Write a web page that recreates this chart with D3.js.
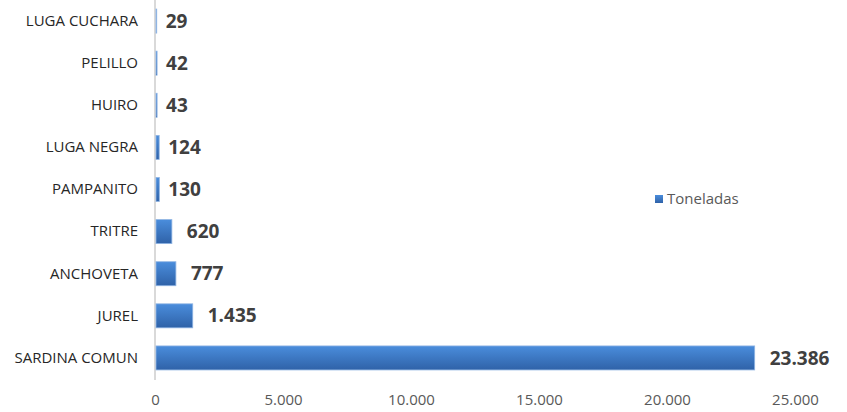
<!DOCTYPE html>
<html lang="es">
  <head>
    <meta charset="UTF-8" />
    <title>Toneladas por especie</title>
    <script src="https://d3js.org/d3.v7.min.js"></script>
    <style>
      body { margin: 0; background: #fff; }
      .chart text { font-family: "Open Sans", "Noto Sans", sans-serif; }
    </style>
  </head>
  <body>
    <div class="chart"></div>
  </body>

  <script>
    var especies = ["LUGA CUCHARA", "PELILLO", "HUIRO", "LUGA NEGRA", "PAMPANITO",
      "TRITRE", "ANCHOVETA", "JUREL", "SARDINA COMUN"];
    var toneladas = [29, 42, 43, 124, 130, 620, 777, 1435, 23386];
    var xTicks = [0, 5000, 10000, 15000, 20000, 25000];
    var serie = "Toneladas";

    var W = 847, H = 412;
    var margin = { top: 0, right: 52, bottom: 33, left: 155 };
    var width = W - margin.left - margin.right;
    var height = H - margin.top - margin.bottom;

    var fmt = function (v) {
      return d3.format(",")(v).replace(/,/g, ".");
    };

    var svgRoot = d3.select(".chart").append("svg")
      .attr("width", W).attr("height", H);

    var grad = svgRoot.append("defs").append("linearGradient")
      .attr("id", "barGrad").attr("x1", 0).attr("y1", 0).attr("x2", 0).attr("y2", 1);
    grad.append("stop").attr("offset", "0%").attr("stop-color", "#4a8ddc");
    grad.append("stop").attr("offset", "100%").attr("stop-color", "#2f62a8");

    var svg = svgRoot.append("g")
      .attr("transform", "translate(" + margin.left + "," + margin.top + ")");

    var x = d3.scaleLinear().domain([0, 25000]).range([0, width]);
    var y = d3.scaleBand().domain(especies).range([0, height]).paddingInner(0.43).paddingOuter(0.215);

    // eje x (solo etiquetas)
    var xAxis = d3.axisBottom(x).tickValues(xTicks).tickFormat(fmt).tickSize(0).tickPadding(15);
    var gx = svg.append("g").attr("transform", "translate(0," + height + ")").call(xAxis);
    gx.select(".domain").remove();
    gx.selectAll("text").attr("fill", "#595959").style("font-size", "15px");

    // eje y
    var yAxis = d3.axisLeft(y).tickSize(0).tickPadding(17);
    var gy = svg.append("g").call(yAxis);
    gy.select(".domain").remove();
    gy.selectAll("text").attr("fill", "#262626").style("font-size", "15px");

    svg.append("line")
      .attr("x1", x(0)).attr("x2", x(0)).attr("y1", 0).attr("y2", height + 1)
      .attr("stroke", "#d9d9d9").attr("stroke-width", 2);

    var data = especies.map(function (e, i) { return { name: e, value: toneladas[i] }; });

    svg.selectAll("rect.bar").data(data).enter().append("rect")
      .attr("class", "bar")
      .attr("x", x(0) + 1)
      .attr("y", function (d) { return y(d.name); })
      .attr("width", function (d) { return Math.max(0, x(d.value) - x(0)); })
      .attr("height", y.bandwidth())
      .attr("fill", "url(#barGrad)")
      .attr("stroke", "#8fb4e3").attr("stroke-width", 0.8);

    svg.selectAll("text.val").data(data).enter().append("text")
      .attr("class", "val")
      .attr("x", function (d) { return x(d.value) + (d.value > 500 ? 16 : 10); })
      .attr("y", function (d) { return y(d.name) + y.bandwidth() / 2; })
      .attr("dy", "0.35em")
      .attr("fill", "#404040")
      .style("font-size", "19px").style("font-weight", "bold")
      .text(function (d) { return fmt(d.value); });

    // leyenda
    var lg = svgRoot.append("g").attr("transform", "translate(655,199)");
    lg.append("rect").attr("x", 0).attr("y", -4).attr("width", 8).attr("height", 8)
      .attr("fill", "url(#barGrad)");
    lg.append("text").attr("x", 12).attr("y", 0).attr("dy", "0.35em")
      .attr("fill", "#595959").style("font-size", "15px").text(serie);
  </script>
</html>
